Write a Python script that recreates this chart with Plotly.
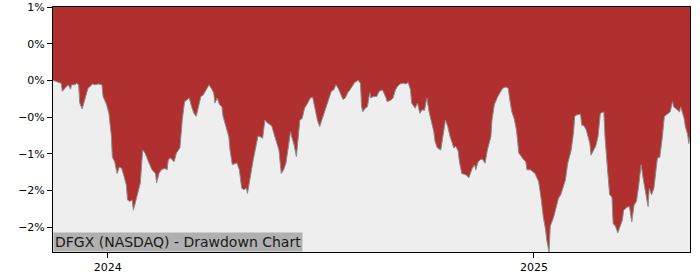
import pandas as pd
import plotly.graph_objects as go

# Calendar days relative to 2024-01-01 and drawdown values (percent)
days = [-47,-42,-40,-39,-37,-34,-32,-31,-28,-27,-25,-24,-22,-19,-17,-15,-13,-11,-8,-5,-4,-1,
        1,3,4,6,8,10,12,14,16,17,19,21,22,24,26,28,30,32,35,38,41,42,44,46,49,51,52,54,57,59,
        62,64,66,68,70,72,74,76,78,80,82,85,87,89,91,92,94,96,98,99,102,104,105,107,110,111,
        113,115,117,119,120,122,123,125,127,129,131,133,135,137,140,141,143,145,147,149,151,
        153,155,157,158,160,162,163,165,167,169,171,174,176,178,180,182,184,187,190,192,194,
        196,198,200,202,204,206,208,210,212,215,217,218,219,221,223,225,226,228,231,233,235,
        236,239,240,243,245,247,249,251,254,256,258,260,261,264,266,268,270,272,274,276,278,
        280,281,283,286,288,290,292,294,296,297,299,301,302,304,306,308,310,312,313,315,316,
        318,320,322,324,326,329,330,332,335,337,339,342,344,345,347,349,351,353,355,357,359,
        360,363,365,367,368,370,372,374,376,377,379,380,383,385,387,389,391,393,395,398,400,
        401,403,406,407,409,411,412,414,415,417,419,421,422,423,426,427,429,431,433,434,436,
        438,440,442,443,446,448,450,452,454,456,457,458,460,462,464,465,467,469,471,472,474,
        476,478,481,483,485,486,489,491,492,495,496,498,499,500]

drawdown = [0.0,-0.03,-0.04,-0.15,-0.11,-0.06,-0.12,-0.06,-0.06,-0.04,-0.06,-0.31,-0.39,-0.22,
            -0.11,-0.08,-0.05,-0.06,-0.05,-0.06,-0.22,-0.33,
            -0.45,-0.74,-1.05,-1.11,-1.27,-1.18,-1.20,-1.31,-1.43,-1.63,-1.65,-1.63,-1.77,-1.65,
            -1.54,-1.40,-0.95,-0.99,-1.11,-1.22,-1.27,-1.40,-1.27,-1.22,-1.20,-1.22,-1.08,-1.06,
            -1.11,-0.99,
            -0.92,-0.54,-0.29,-0.27,-0.24,-0.36,-0.45,-0.49,-0.36,-0.22,-0.20,-0.12,-0.06,-0.11,
            -0.17,-0.31,-0.24,-0.33,-0.36,-0.49,-0.65,-0.77,-0.95,-1.15,-1.13,-1.13,
            -1.22,-1.47,-1.49,-1.47,-1.54,-1.36,-1.22,-1.08,-0.92,-0.76,-0.77,-0.79,-0.54,-0.58,
            -0.61,-0.63,-0.74,-0.86,-0.95,-1.27,-1.22,
            -1.13,-0.92,-0.70,-0.77,-0.88,-1.04,-0.83,-0.54,-0.52,-0.38,-0.33,-0.24,-0.23,-0.40,
            -0.54,-0.63,-0.54,-0.40,-0.24,-0.15,-0.13,
            -0.06,-0.11,-0.20,-0.26,-0.24,-0.17,-0.13,-0.08,-0.03,0.0,-0.04,-0.36,-0.43,-0.38,
            -0.36,-0.17,-0.24,-0.22,-0.22,-0.15,-0.14,
            -0.13,-0.24,-0.29,-0.27,-0.24,-0.13,-0.08,-0.05,-0.04,-0.05,-0.03,-0.13,-0.31,-0.38,
            -0.31,-0.45,-0.40,-0.41,-0.24,-0.43,-0.56,
            -0.70,-0.83,-0.92,-0.95,-0.72,-0.54,-0.63,-0.77,-0.86,-0.92,-0.90,-0.97,-1.11,-1.27,
            -1.28,-1.29,-1.33,-1.22,-1.20,-1.15,-1.22,
            -1.11,-1.08,-1.08,-1.13,-0.95,-0.77,-0.54,-0.33,-0.22,-0.17,-0.11,-0.09,-0.11,-0.24,
            -0.43,-0.52,-0.68,-0.99,-1.04,-1.08,-1.11,
            -1.22,-1.22,-1.24,-1.27,-1.31,-1.38,-1.59,-1.86,-2.04,-2.18,-2.34,-1.99,-1.86,-1.74,
            -1.61,-1.56,-1.47,-1.36,-1.13,-0.95,-0.71,
            -0.49,-0.47,-0.46,-0.61,-0.62,-0.68,-0.74,-0.86,-1.02,-0.95,-0.90,-0.77,-0.61,-0.45,
            -0.43,-0.77,-1.18,-1.56,-1.59,-1.95,-1.99,
            -2.08,-1.99,-1.90,-1.77,-1.73,-1.72,-1.93,-1.70,-1.65,-1.43,-1.27,-1.15,-1.36,-1.54,
            -1.72,-1.47,-1.56,-1.47,-1.24,-1.06,-1.05,
            -0.81,-0.49,-0.45,-0.43,-0.29,-0.36,-0.40,-0.43,-0.36,-0.52,-0.63,-0.74,-0.86,-0.77]

y_ticks = [1.0, 0.5, 0.0, -0.5, -1.0, -1.5, -2.0]
y_tick_labels = ["1%", "0%", "0%", "\u22120%", "\u22121%", "\u22122%", "\u22122%"]
x_ticks = ["2024-01-01", "2025-01-01"]
x_tick_labels = ["2024", "2025"]
y_top = 1.0
y_bottom = -2.34
title_text = "DFGX (NASDAQ) - Drawdown Chart"

dates = pd.Timestamp("2024-01-01") + pd.to_timedelta(days, unit="D")

fig = go.Figure()
fig.add_trace(go.Scatter(x=dates, y=[y_top] * len(dates), mode="lines",
                         line=dict(width=0, color="rgba(0,0,0,0)"), hoverinfo="skip",
                         showlegend=False))
fig.add_trace(go.Scatter(x=dates, y=drawdown, mode="lines", fill="tonexty",
                         fillcolor="#b03030", line=dict(color="#8c8c8c", width=1),
                         showlegend=False))

axis_common = dict(showline=True, linecolor="black", linewidth=1, mirror=True,
                   showgrid=False, zeroline=False, ticks="outside", ticklen=5,
                   tickcolor="black", automargin=False,
                   tickfont=dict(family="DejaVu Sans", size=11, color="black"))

fig.update_layout(
    width=700, height=280,
    margin=dict(l=53, r=10, t=7, b=28),
    paper_bgcolor="white", plot_bgcolor="#eeeeee",
    xaxis=dict(range=[dates[0], dates[-1]], tickvals=pd.to_datetime(x_ticks),
               ticktext=x_tick_labels, **axis_common),
    yaxis=dict(range=[y_bottom, y_top], tickvals=y_ticks, ticktext=y_tick_labels,
               **axis_common),
    annotations=[dict(text=title_text, xref="paper", yref="paper", x=0, y=0,
                      xanchor="left", yanchor="bottom", showarrow=False,
                      font=dict(family="DejaVu Sans", size=14, color="#1a1a1a"),
                      bgcolor="#b0b0b0", borderpad=1)],
)

fig.write_html("out.html")
